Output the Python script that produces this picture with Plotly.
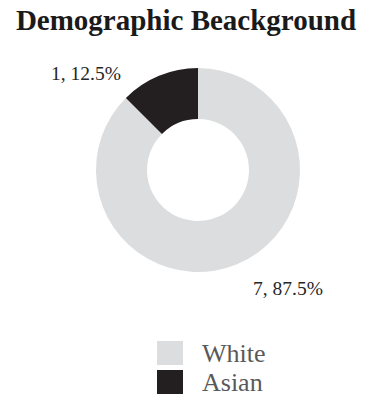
import plotly.graph_objects as go

categories = ["White", "Asian"]
counts = [7, 1]
colors = ["#dcdddf", "#231f20"]
title_text = "Demographic Beackground"

W, H = 365, 413
FONT = "Liberation Serif, Times New Roman, serif"

def px_x(x):
    return x / W

def px_y(y):
    return 1 - y / H

total = sum(counts)

fig = go.Figure()
fig.add_trace(go.Pie(
    labels=categories,
    values=counts,
    hole=0.5,
    sort=False,
    direction="clockwise",
    rotation=0,
    marker=dict(colors=colors, line=dict(width=0)),
    textinfo="none",
    hoverinfo="label+value+percent",
    showlegend=False,
    domain=dict(x=[px_x(96), px_x(300)], y=[px_y(272), px_y(68)]),
))

# data labels
label_pos = [(288, 288), (86, 73)]
annotations = []
for (cx, cy), v in zip(label_pos, counts):
    annotations.append(dict(
        x=px_x(cx), y=px_y(cy), xref="paper", yref="paper",
        text=f"{v}, {v / total * 100:.1f}%", showarrow=False,
        xanchor="center", yanchor="middle",
        font=dict(family=FONT, size=19.5, color="#262626"),
    ))

# custom legend
shapes = []
leg_rows = [353, 382]
for cat, col, yc in zip(categories, colors, leg_rows):
    shapes.append(dict(
        type="rect", xref="paper", yref="paper",
        x0=px_x(157), x1=px_x(183), y0=px_y(yc + 12), y1=px_y(yc - 12),
        fillcolor=col, line=dict(width=0),
    ))
    annotations.append(dict(
        x=px_x(200), y=px_y(yc), xref="paper", yref="paper",
        text=cat, showarrow=False, xanchor="left", yanchor="middle",
        font=dict(family=FONT, size=26, color="#595959"),
    ))

fig.update_layout(
    width=W, height=H,
    margin=dict(l=0, r=0, t=0, b=0),
    paper_bgcolor="white", plot_bgcolor="white",
    title=dict(
        text=f"<b>{title_text}</b>", x=px_x(186), xanchor="center",
        y=px_y(20), yanchor="middle", yref="container",
        font=dict(family=FONT, size=29, color="#1a1a1a"),
    ),
    annotations=annotations,
    shapes=shapes,
    showlegend=False,
)

fig.write_html(
    "out.html",
    config={"displayModeBar": False},
    post_script="document.body.style.margin='0';",
)
